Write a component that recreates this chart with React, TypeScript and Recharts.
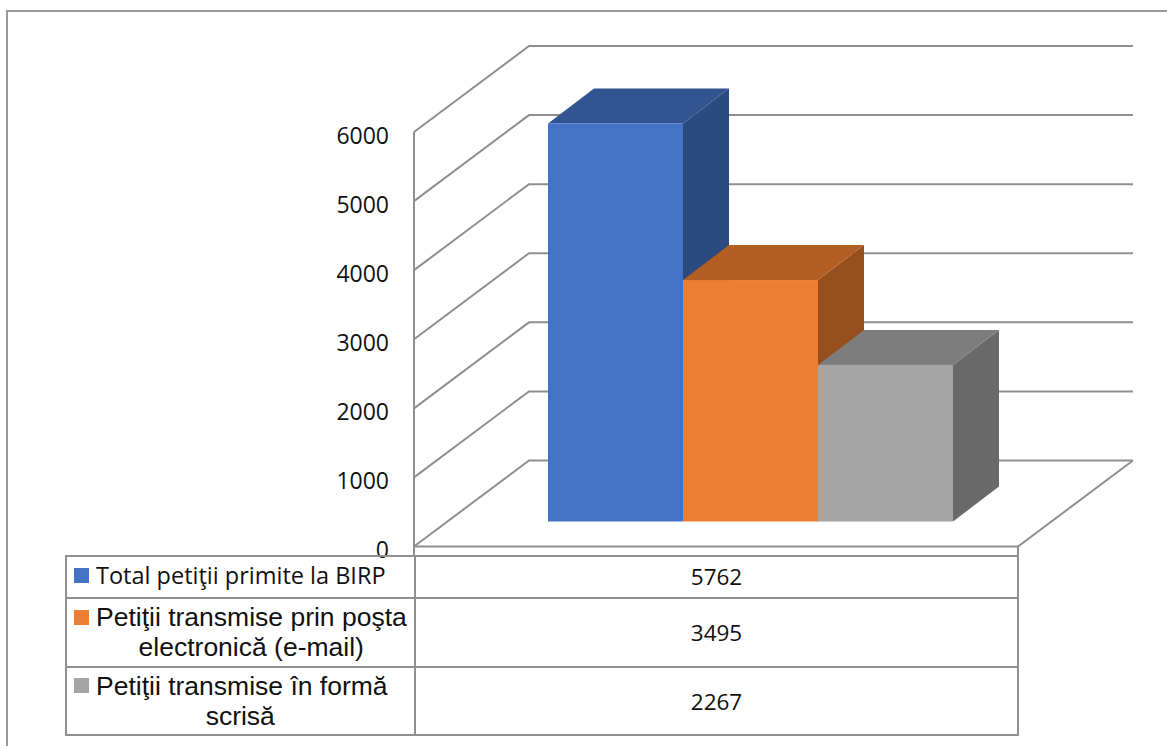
import React from 'react'
import { BarChart, Bar, YAxis, XAxis, CartesianGrid } from 'recharts'

const seriesKeys = ['total', 'email', 'scris']
const seriesValues = [5762, 3495, 2267]
const legendLines = [
  ['Total petiţii primite la BIRP'],
  ['Petiţii transmise prin poşta', 'electronică (e-mail)'],
  ['Petiţii transmise în formă', 'scrisă'],
]
const yTicks = [0, 1000, 2000, 3000, 4000, 5000, 6000]

const frontColors = ['#4472c4', '#ed7d31', '#a5a5a5']
const topColors = ['#325591', '#b35e22', '#7d7d7d']
const sideColors = ['#2a4a80', '#954f1c', '#696969']

const LINE = '#8f8f8f'
// depth of the wall and of the bars, in px
const WALL_DX = 115
const WALL_DY = 86
const BAR_SHIFT_X = 34
const BAR_SHIFT_Y = 25
const BAR_DX = 46
const BAR_DY = 35

const chartData = [
  Object.fromEntries([['name', 'Petitii'], ...seriesKeys.map((k, i) => [k, seriesValues[i]])]),
]

function GridLine(props: any) {
  const { x1, x2, y1, y, height } = props
  const isFloor = Math.abs(y1 - (y + height)) < 1
  const common = { fill: 'none', stroke: LINE, strokeWidth: 2 }
  return (
    <g>
      <path
        {...common}
        d={`M${x1},${y1} L${x1 + WALL_DX},${y1 - WALL_DY} L${x2 + WALL_DX},${y1 - WALL_DY}`}
      />
      {isFloor && (
        <path
          {...common}
          d={`M${x1},${y1 + 9} L${x1},${y1} L${x2},${y1} L${x2 + WALL_DX},${y1 - WALL_DY} M${x2},${y1} L${x2},${y1 + 9}`}
        />
      )}
    </g>
  )
}

function Bar3D(props: any) {
  const { x, y, width, height, index } = props
  const left = x + BAR_SHIFT_X
  const right = left + width
  const top = y - BAR_SHIFT_Y
  const bottom = top + height
  return (
    <g>
      <polygon
        points={`${right},${top} ${right + BAR_DX},${top - BAR_DY} ${right + BAR_DX},${bottom - BAR_DY} ${right},${bottom}`}
        fill={sideColors[index]}
      />
      <polygon
        points={`${left},${top} ${left + BAR_DX},${top - BAR_DY} ${right + BAR_DX},${top - BAR_DY} ${right},${top}`}
        fill={topColors[index]}
      />
      <rect x={left} y={top} width={width} height={height} fill={frontColors[index]} />
    </g>
  )
}

const borderLine = `2px solid ${LINE}`
const rowHeights = [41.5, 69.5, 70]

function DataTable() {
  let top = 555
  return (
    <div style={{ position: 'absolute', left: 0, top: 0 }}>
      {legendLines.map((lines, i) => {
        const rowTop = top
        top += rowHeights[i]
        return (
          <React.Fragment key={i}>
            <div
              style={{
                position: 'absolute',
                left: 64.5,
                top: rowTop,
                width: 349.5,
                height: rowHeights[i],
                boxSizing: 'border-box',
                borderLeft: borderLine,
                borderTop: borderLine,
                borderBottom: i === 2 ? borderLine : 'none',
                display: 'flex',
                flexDirection: 'column',
                justifyContent: 'center',
                alignItems: 'center',
                color: '#111',
                fontFamily: i === 0 ? '"Open Sans", sans-serif' : '"Liberation Sans", Arial, sans-serif',
                fontSize: i === 0 ? 23.5 : 26.5,
                lineHeight: i === 0 ? '24px' : '30.5px',
                whiteSpace: 'nowrap',
              }}
            >
              <div
                style={{
                  display: 'flex',
                  alignItems: 'center',
                  alignSelf: 'flex-start',
                  marginLeft: 7.5,
                  marginTop: i === 0 ? -3 : 0,
                }}
              >
                <span
                  style={{
                    width: 15,
                    height: 15,
                    marginRight: 7,
                    background: frontColors[i],
                    display: 'inline-block',
                  }}
                />
                {lines[0]}
              </div>
              {lines[1] && <div style={{ marginLeft: i === 1 ? 22 : 0 }}>{lines[1]}</div>}
            </div>
            <div
              style={{
                position: 'absolute',
                left: 414,
                top: rowTop,
                width: 605,
                height: rowHeights[i],
                boxSizing: 'border-box',
                borderLeft: borderLine,
                borderRight: borderLine,
                borderTop: borderLine,
                borderBottom: i === 2 ? borderLine : 'none',
                display: 'flex',
                justifyContent: 'center',
                alignItems: 'center',
                color: '#111',
                fontFamily: '"Open Sans", sans-serif',
                fontSize: 22.5,
              }}
            >
              {seriesValues[i]}
            </div>
          </React.Fragment>
        )
      })}
    </div>
  )
}

export default function App() {
  return (
    <div
      style={{
        position: 'absolute',
        left: 0,
        top: 0,
        width: 1167,
        height: 746,
        overflow: 'hidden',
        background: '#fff',
      }}
    >
      <div
        style={{
          position: 'absolute',
          left: 5.5,
          top: 10,
          right: -4,
          bottom: -4,
          border: '2px solid #9a9a9a',
        }}
      />
      <div style={{ position: 'absolute', left: 0, top: 0 }}>
        <BarChart
          width={1167}
          height={746}
          data={chartData}
          margin={{ top: 132, right: 149, bottom: 199.5, left: 314 }}
          barCategoryGap={100}
          barGap={0}
        >
          <CartesianGrid vertical={false} horizontal={(p: any) => <GridLine {...p} />} />
          <XAxis dataKey="name" hide />
          <YAxis
            width={100}
            domain={[0, 6000]}
            ticks={yTicks}
            interval={0}
            tickLine={false}
            axisLine={{ stroke: LINE, strokeWidth: 2 }}
            tickMargin={19}
            tick={{ fill: '#111', fontSize: 23, fontFamily: '"Open Sans", sans-serif', dy: 3.5 }}
          />
          {seriesKeys.map((k) => (
            <Bar key={k} dataKey={k} isAnimationActive={false} shape={(p: any) => <Bar3D {...p} index={seriesKeys.indexOf(k)} />} />
          ))}
        </BarChart>
      </div>
      <DataTable />
    </div>
  )
}
